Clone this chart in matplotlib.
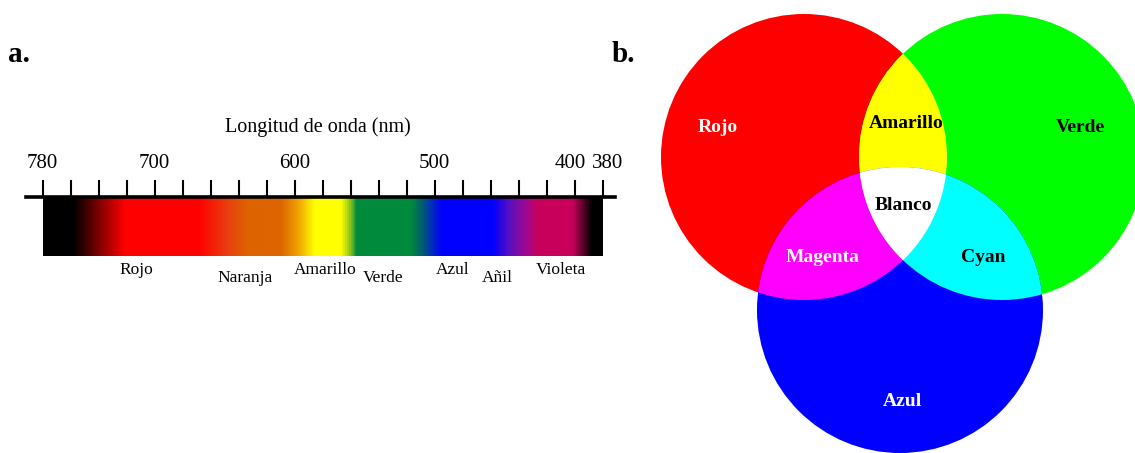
import numpy as np
import matplotlib
matplotlib.use("Agg")
import matplotlib.pyplot as plt
import matplotlib.transforms as mtransforms
from matplotlib.colors import LinearSegmentedColormap
from matplotlib.patches import Circle, Polygon

plt.rcParams['font.family'] = ['Liberation Serif', 'DejaVu Serif']

# spectrum colour stops (wavelength nm -> colour)
stop_nm = [780, 759, 722, 669, 648, 635, 610, 598, 586, 567, 560, 556,
           517, 508, 495, 458, 446, 434, 426, 401, 387, 380]
stop_col = ['#000000', '#000000', '#ff0000', '#ff0000', '#e84010', '#dd6200',
            '#dd6600', '#f0a000', '#ffff00', '#ffff00', '#80c020', '#008a3c',
            '#008a3c', '#005878', '#0000ff', '#0000ff', '#5a10c0', '#a00890',
            '#c8005c', '#c8005c', '#000000', '#000000']

major_ticks = [780, 700, 600, 500, 400, 380]
major_labels = ['780', '700', '600', '500', '400', '380']
minor_ticks = list(range(380, 781, 20))

band_names = ['Rojo', 'Naranja', 'Amarillo', 'Verde', 'Azul', 'Añil', 'Violeta']
band_nm = [713, 635, 578, 537, 487, 455, 410]
band_low = [False, True, False, True, False, True, False]

# additive colour circles
circle_names = ['Rojo', 'Verde', 'Azul']
circle_cols = ['#ff0000', '#00ff00', '#0000ff']
mix_names = ['Amarillo', 'Magenta', 'Cyan', 'Blanco']
mix_cols = ['#ffff00', '#ff00ff', '#00ffff', '#ffffff']

fig = plt.figure(figsize=(11.35, 4.53), dpi=100)

# ---- a. spectrum ----
x0, x1 = 26, 615
y_top, y_bot = 197, 256
ax = fig.add_axes([x0 / 1135, 1 - y_bot / 453, (x1 - x0) / 1135, (y_bot - y_top) / 453])
px_per_nm = (602.5 - 42.5) / 400
xlim = (780 + (42.5 - x0) / px_per_nm, 380 - (x1 - 602.5) / px_per_nm)

order = np.argsort(stop_nm)
pos = [(stop_nm[i] - 380) / 400 for i in order]
cmap = LinearSegmentedColormap.from_list('spec', [(p, stop_col[i]) for p, i in zip(pos, order)])
wl = np.linspace(380, 780, 1200)
ax.imshow(wl[None, :], cmap=cmap, vmin=380, vmax=780, aspect='auto',
          extent=(380, 780, 0, 1), origin='lower', interpolation='bilinear')
ax.set_xlim(*xlim)
ax.set_ylim(0, 1)

for s in ['left', 'right', 'bottom']:
    ax.spines[s].set_visible(False)
ax.spines['top'].set_linewidth(2.6)
ax.xaxis.tick_top()
ax.set_xticks(major_ticks, labels=major_labels)
ax.set_xticks(minor_ticks, minor=True)
ax.tick_params(axis='x', which='both', direction='out', length=12, width=1.5,
               pad=5, labelsize=15)
ax.set_yticks([])

# nudge the two crowded labels apart
shift = {'400': -4, '380': 5}
for lab in ax.get_xticklabels():
    txt = lab.get_text()
    if txt in shift:
        off = mtransforms.ScaledTranslation(shift[txt] / 100, 0, fig.dpi_scale_trans)
        lab.set_transform(lab.get_transform() + off)

ax.text(583, 2.19, 'Longitud de onda (nm)', transform=ax.get_xaxis_transform(),
        ha='center', va='center', fontsize=14.5)
for name, x, low in zip(band_names, band_nm, band_low):
    ax.text(x, -0.37 if low else -0.24, name, transform=ax.get_xaxis_transform(),
            ha='center', va='center', fontsize=12.5)

# ---- b. RGB circles ----
ax2 = fig.add_axes([0, 0, 1, 1], zorder=-1)
ax2.set_xlim(0, 1135)
ax2.set_ylim(453, 0)
ax2.axis('off')

r = 143
centers = [(804, 157), (1002, 157), (900, 310)]
for (cx, cy), c in zip(centers, circle_cols):
    ax2.add_patch(Circle((cx, cy), r, facecolor=c, edgecolor='none'))

pairs = [(0, 1), (0, 2), (1, 2)]
for (i, j), c in zip(pairs, mix_cols[:3]):
    p = Circle(centers[i], r, facecolor=c, edgecolor='none')
    ax2.add_patch(p)
    clip = Circle(centers[j], r, transform=ax2.transData)
    p.set_clip_path(clip)

# lens of red and green, clipped to blue -> white
(ax_, ay), (bx, by) = centers[0], centers[1]
d = np.hypot(bx - ax_, by - ay)
alpha = np.arccos(d / 2 / r)
t = np.linspace(-alpha, alpha, 100)
arc1 = np.c_[ax_ + r * np.cos(t), ay + r * np.sin(t)]
t2 = np.linspace(np.pi + alpha, np.pi - alpha, 100)
arc2 = np.c_[bx + r * np.cos(t2), by - r * np.sin(t2)]
lens = Polygon(np.vstack([arc1, arc2[::-1]]), closed=True, facecolor=mix_cols[3], edgecolor='none')
ax2.add_patch(lens)
lens.set_clip_path(Circle(centers[2], r, transform=ax2.transData))

labels_b = [('Rojo', 718, 128, 'white'), ('Verde', 1080, 128, 'black'),
            ('Azul', 902, 402, 'white'), ('Amarillo', 906, 123, 'black'),
            ('Magenta', 823, 257, 'white'), ('Cyan', 983, 257, 'black'),
            ('Blanco', 903, 205, 'black')]
for name, x, y, col in labels_b:
    ax2.text(x, y, name, ha='center', va='center', fontsize=14, fontweight='bold', color=col)

ax2.text(8, 55, 'a.', ha='left', va='center', fontsize=21, fontweight='bold')
ax2.text(612, 55, 'b.', ha='left', va='center', fontsize=21, fontweight='bold')

fig.savefig('out.png', dpi=100)
